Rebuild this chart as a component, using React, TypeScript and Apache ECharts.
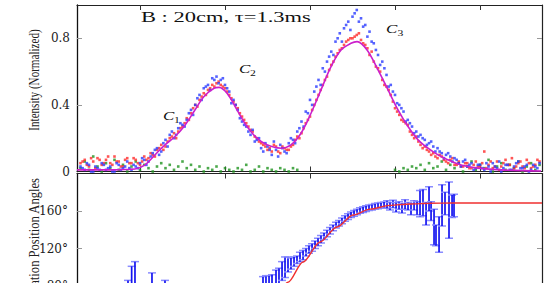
import React, { useEffect, useRef } from 'react';
import * as echarts from 'echarts';

// ---------- data (x = pulse longitude, arbitrary units; ticks every 10) ----------
const X_MIN = -7.41;
const X_MAX = 47.29;
const xTicks = [0, 10, 20, 30, 40];
const intensityLabels = [0, 0.4, 0.8];
const intensityTicks = [0.4, 0.8];
const angleLabels = [80, 120, 160];
const angleTicks = [40, 80, 120, 160];

const longitudes = [
  -7, -6.5, -6, -5.5, -5, -4.5, -4, -3.5, -3, -2.5, -2, -1.5, -1, -0.5,
  0, 0.5, 1, 1.5, 2, 2.5, 3, 3.5, 4, 4.5,
  5, 5.5, 6, 6.5, 7, 7.5, 8, 8.5, 9, 9.5,
  10, 10.5, 11, 11.5, 12, 12.5, 13, 13.5, 14, 14.5,
  15, 15.5, 16, 16.5, 17, 17.5, 18, 18.5, 19, 19.5,
  20, 20.5, 21, 21.5, 22, 22.5, 23, 23.5, 24, 24.5,
  25, 25.5, 26, 26.5, 27, 27.5, 28, 28.5, 29, 29.5,
  30, 30.5, 31, 31.5, 32, 32.5, 33, 33.5, 34, 34.5,
  35, 35.5, 36, 36.5, 37, 37.5, 38, 38.5, 39, 39.5,
  40, 40.5, 41, 41.5, 42, 42.5, 43, 43.5, 44, 44.5,
  45, 45.5, 46, 46.5, 47,
];

const blueIntensity = [
  0.03, 0.01, 0.04, 0.0, 0.02, 0.05, 0.01, 0.03, 0.0, 0.04, 0.02, 0.06, 0.01, 0.03,
  0.05, 0.07, 0.06, 0.11, 0.14, 0.12, 0.19, 0.22, 0.2, 0.26,
  0.28, 0.31, 0.37, 0.4, 0.46, 0.5, 0.52, 0.56, 0.57, 0.55,
  0.52, 0.48, 0.43, 0.37, 0.3, 0.27, 0.22, 0.18, 0.2, 0.12,
  0.15, 0.1, 0.13, 0.16, 0.12, 0.17, 0.19, 0.24, 0.3, 0.36,
  0.43, 0.48, 0.55, 0.62, 0.66, 0.72, 0.78, 0.83, 0.86, 0.9,
  0.93, 0.97, 0.92, 0.88, 0.84, 0.77, 0.7, 0.66, 0.58, 0.52,
  0.46, 0.4, 0.36, 0.31, 0.27, 0.24, 0.22, 0.19, 0.17, 0.15,
  0.14, 0.11, 0.1, 0.09, 0.08, 0.05, 0.06, 0.03, 0.05, 0.02,
  0.04, 0.01, 0.03, 0.05, 0.02, 0.0, 0.04, 0.01, 0.03, 0.06,
  0.02, 0.04, 0.01, 0.03, 0.05,
];

const redIntensity = [
  0.05, 0.07, 0.03, 0.06, 0.08, 0.04, 0.07, 0.05, 0.09, 0.06, 0.03, 0.08, 0.05, 0.07,
  0.04, 0.09, 0.08, 0.1, 0.13, 0.16, 0.15, 0.2, 0.23, 0.24,
  0.27, 0.32, 0.35, 0.4, 0.43, 0.47, 0.49, 0.52, 0.53, 0.52,
  0.5, 0.46, 0.42, 0.38, 0.33, 0.29, 0.25, 0.21, 0.18, 0.16,
  0.13, 0.12, 0.15, 0.11, 0.14, 0.13, 0.16, 0.21, 0.23, 0.29,
  0.33, 0.4, 0.46, 0.52, 0.57, 0.64, 0.69, 0.73, 0.76, 0.79,
  0.8, 0.82, 0.79, 0.76, 0.7, 0.66, 0.62, 0.55, 0.51, 0.46,
  0.38, 0.34, 0.3, 0.28, 0.22, 0.21, 0.16, 0.15, 0.12, 0.11,
  0.08, 0.09, 0.06, 0.07, 0.04, 0.06, 0.03, 0.05, 0.02, 0.06,
  0.03, 0.12, 0.04, 0.02, 0.06, 0.03, 0.07, 0.04, 0.02, 0.05,
  0.03, 0.07, 0.02, 0.04, 0.06,
];

const greenIntensity = [
  0.02, 0.06, 0.01, 0.09, 0.03, 0.0, 0.05, 0.02, 0.07, 0.01, 0.04, 0.0, 0.03, 0.06,
  0.01, 0.04, 0.02, 0.0, 0.03, 0.05, 0.02, 0.04, 0.01, 0.03,
  0.06, 0.02, 0.04, 0.01, 0.03, 0.0, 0.02, 0.01, 0.03, 0.0,
  0.02, 0.01, 0.0, 0.02, 0.01, 0.04, 0.0, 0.01, 0.03, 0.0,
  0.02, 0.01, 0.0, 0.02, 0.01, 0.0, 0.02, 0.01, null, null,
  null, null, null, null, null, null, null, null, null, null,
  null, null, null, null, null, null, null, null, null, null,
  0.01, 0.0, 0.02, 0.01, 0.03, 0.02, 0.04, 0.01, 0.05, 0.02,
  0.03, 0.06, 0.01, 0.04, 0.02, 0.05, 0.0, 0.03, 0.06, 0.01,
  0.04, 0.02, 0.07, 0.0, 0.03, 0.05, 0.01, 0.04, 0.02, 0.06,
  0.0, 0.03, 0.05, 0.01, 0.04,
];

// intermediate longitude bins (blue and red channels)
const longitudesHalf = [
  -6.75, -6.25, -5.75, -5.25, -4.75, -4.25, -3.75, -3.25, -2.75, -2.25, -1.75, -1.25, -0.75, -0.25,
  0.25, 0.75, 1.25, 1.75, 2.25, 2.75, 3.25, 3.75, 4.25, 4.75,
  5.25, 5.75, 6.25, 6.75, 7.25, 7.75, 8.25, 8.75, 9.25, 9.75,
  10.25, 10.75, 11.25, 11.75, 12.25, 12.75, 13.25, 13.75, 14.25, 14.75,
  15.25, 15.75, 16.25, 16.75, 17.25, 17.75, 18.25, 18.75, 19.25, 19.75,
  20.25, 20.75, 21.25, 21.75, 22.25, 22.75, 23.25, 23.75, 24.25, 24.75,
  25.25, 25.75, 26.25, 26.75, 27.25, 27.75, 28.25, 28.75, 29.25, 29.75,
  30.25, 30.75, 31.25, 31.75, 32.25, 32.75, 33.25, 33.75, 34.25, 34.75,
  35.25, 35.75, 36.25, 36.75, 37.25, 37.75, 38.25, 38.75, 39.25, 39.75,
  40.25, 40.75, 41.25, 41.75, 42.25, 42.75, 43.25, 43.75, 44.25, 44.75,
  45.25, 45.75, 46.25, 46.75,
];

const blueIntensityHalf = [
  0.02, 0.05, 0.0, 0.03, 0.01, 0.04, 0.02, 0.0, 0.05, 0.01, 0.03, 0.02, 0.04, 0.02,
  0.08, 0.04, 0.09, 0.13, 0.1, 0.17, 0.15, 0.24, 0.22, 0.29,
  0.27, 0.35, 0.34, 0.44, 0.43, 0.51, 0.49, 0.55, 0.53, 0.56,
  0.5, 0.41, 0.4, 0.32, 0.28, 0.24, 0.25, 0.19, 0.14, 0.17,
  0.13, 0.18, 0.09, 0.14, 0.11, 0.2, 0.17, 0.26, 0.27, 0.35,
  0.4, 0.51, 0.52, 0.6, 0.69, 0.7, 0.8, 0.78, 0.88, 0.85,
  0.95, 0.9, 0.87, 0.81, 0.78, 0.73, 0.64, 0.62, 0.51, 0.48,
  0.41, 0.38, 0.3, 0.29, 0.23, 0.21, 0.2, 0.16, 0.18, 0.12,
  0.12, 0.08, 0.11, 0.06, 0.07, 0.03, 0.07, 0.04, 0.01, 0.04,
  0.02, 0.05, 0.0, 0.03, 0.06, 0.02, 0.04, 0.01, 0.05, 0.02,
  0.03, 0.0, 0.04, 0.02,
];

const redIntensityHalf = [
  0.06, 0.04, 0.08, 0.02, 0.07, 0.05, 0.09, 0.04, 0.06, 0.03, 0.07, 0.05, 0.08, 0.05,
  0.06, 0.07, 0.11, 0.09, 0.14, 0.13, 0.18, 0.21, 0.2, 0.26,
  0.29, 0.31, 0.38, 0.39, 0.45, 0.46, 0.5, 0.51, 0.54, 0.51,
  0.48, 0.44, 0.4, 0.35, 0.31, 0.27, 0.24, 0.2, 0.17, 0.15,
  0.14, 0.16, 0.12, 0.15, 0.13, 0.15, 0.19, 0.2, 0.26, 0.31,
  0.37, 0.43, 0.49, 0.55, 0.61, 0.66, 0.71, 0.74, 0.78, 0.8,
  0.81, 0.83, 0.77, 0.74, 0.72, 0.63, 0.6, 0.52, 0.49, 0.42,
  0.36, 0.31, 0.29, 0.24, 0.2, 0.18, 0.14, 0.13, 0.1, 0.09,
  0.1, 0.07, 0.05, 0.08, 0.04, 0.03, 0.05, 0.02, 0.04, 0.03,
  0.05, 0.02, 0.06, 0.03, 0.01, 0.05, 0.04, 0.08, 0.03, 0.06,
  0.02, 0.05, 0.03, 0.07,
];

const fitX = [
  -7.41, -5.88, -3.53, -1.76, -0.59, 0.59, 1.76, 2.94, 4.12, 5.18, 6.35, 7.53, 8.71, 9.29,
  10.24, 11.41, 12.59, 13.76, 14.94, 16.59, 17.76, 18.94, 20.12, 21.29, 22.47, 23.65, 24.82,
  25.53, 26.71, 28.0, 29.18, 30.35, 31.53, 32.71, 33.88, 35.06, 36.24, 37.41, 38.59, 39.76,
  42.47, 47.18,
];
const fitY = [
  0.01, 0.01, 0.01, 0.012, 0.015, 0.04, 0.1, 0.16, 0.21, 0.27, 0.36, 0.45, 0.5, 0.505,
  0.47, 0.37, 0.27, 0.2, 0.16, 0.14, 0.16, 0.23, 0.35, 0.49, 0.63, 0.73, 0.77,
  0.78, 0.73, 0.61, 0.49, 0.37, 0.27, 0.19, 0.14, 0.1, 0.07, 0.045, 0.03, 0.02,
  0.01, 0.003,
];

const paX = [
  -1.41, -0.98, -0.59, 1.41, 2.94,
  14.47, 14.82, 15.18, 15.53, 16.0, 16.35, 16.71, 17.06, 17.41, 17.76,
  18.12, 18.47, 18.82, 19.18, 19.53, 19.88, 20.24, 20.59, 20.94, 21.29,
  21.65, 22.0, 22.35, 22.71, 23.06, 23.41, 23.76, 24.12, 24.47, 24.82,
  25.18, 25.53, 25.88, 26.24, 26.59, 26.94, 27.29, 27.65, 28.0, 28.35,
  28.71, 29.06, 29.41, 29.76, 30.12, 30.47, 30.82, 31.18, 31.53, 31.88,
  32.24, 32.59, 32.94, 33.29, 33.65, 34.0, 34.24, 34.59, 34.82, 35.18,
  35.53, 35.88, 36.35, 36.71, 36.94,
];
const paAngle = [
  75, 85, 90, 85, 78,
  78, 80, 82, 84, 88, 90, 96, 100, 103, 104,
  106, 108, 111, 113, 116, 119, 121, 124, 127, 130,
  133, 136, 139, 142, 145, 147, 149.5, 152, 154, 156,
  157.5, 159, 160.5, 161.5, 162.5, 163.5, 164, 165, 165.5, 166,
  166.5, 167, 165, 167.5, 164, 166, 163, 167, 165, 162,
  166, 163, 168, 169, 157, 173, 160, 143, 134, 135,
  166, 168, 161, 165, 166,
];
const paError = [
  11, 16, 16, 9, 8,
  12, 11, 9, 8, 9, 9, 10, 11, 8, 6,
  5, 4, 5, 5, 4, 4, 4, 4, 4, 4,
  3.5, 3.5, 3.5, 3, 3, 3, 3, 3, 3, 3,
  3, 3, 3, 3, 3, 3, 3, 3, 3, 3,
  3, 4, 4, 4, 5, 4, 5, 5, 4, 6,
  5, 7, 14, 14, 12, 13, 10, 19, 11, 19,
  22, 12, 30, 12, 12,
];

const rvmX = [12.5, 14.71, 15.88, 17.41, 19.18, 21.18, 23.18, 25.06, 27.06, 29.41, 31.76, 34.12, 36.82, 47.29];
const rvmY = [30, 55, 68, 84, 105.6, 127, 143, 155.7, 162, 166, 167.5, 168.3, 168.5, 168.5];

const titleText = 'B : 20cm, τ=1.3ms';
const topYName = 'Intensity (Normalized)';
const bottomYName = 'Polarization Position Angles';

export default function App() {
  const ref = useRef<HTMLDivElement>(null);

  useEffect(() => {
    document.body.style.margin = '0';
    document.body.style.overflow = 'hidden';
    document.documentElement.style.overflow = 'hidden';
    const chart = echarts.init(ref.current!, null, { renderer: 'svg' });

    const zip = (xs: number[], ys: (number | null)[]) =>
      xs
        .map((x, i) => (ys[i] == null ? null : [x, ys[i] as number]))
        .filter((p) => p !== null) as number[][];

    const xAxisFor = (gridIndex: number, position: string) => ({
      type: 'value',
      gridIndex,
      position,
      min: X_MIN,
      max: X_MAX,
      axisLine: { show: true, onZero: false, lineStyle: { color: '#222', width: 1.2 } },
      axisTick: {
        show: true,
        inside: true,
        length: 5,
        customValues: xTicks,
        lineStyle: { color: '#333', width: 1 },
      },
      axisLabel: { show: false },
      splitLine: { show: false },
    });

    const labelFont = { fontFamily: 'DejaVu Serif', fontSize: 12, color: '#222' };
    const textBase = { fill: '#111', textAlign: 'left', textVerticalAlign: 'middle', align: 'left', verticalAlign: 'middle' };

    const option: any = {
      animation: false,
      backgroundColor: '#fff',
      grid: [
        { left: 77, top: 5, width: 465, height: 166.5 },
        { left: 77, top: 173.5, width: 465, height: 187.5 },
      ],
      xAxis: [
        xAxisFor(0, 'bottom'),
        xAxisFor(0, 'top'),
        xAxisFor(1, 'top'),
        xAxisFor(1, 'bottom'),
      ],
      yAxis: [
        {
          type: 'value',
          gridIndex: 0,
          position: 'left',
          min: 0,
          max: 1,
          axisLine: { show: true, onZero: false, lineStyle: { color: '#111', width: 1.3 } },
          axisTick: { show: true, inside: true, length: 5, customValues: intensityTicks, lineStyle: { color: '#999' } },
          axisLabel: { ...labelFont, margin: 7, customValues: intensityLabels },
          splitLine: { show: false },
        },
        {
          type: 'value',
          gridIndex: 0,
          position: 'right',
          min: 0,
          max: 1,
          axisLine: { show: true, onZero: false, lineStyle: { color: '#222', width: 1.2 } },
          axisTick: { show: true, inside: true, length: 5, customValues: intensityTicks, lineStyle: { color: '#999' } },
          axisLabel: { show: false },
          splitLine: { show: false },
        },
        {
          type: 'value',
          gridIndex: 1,
          position: 'left',
          min: 0,
          max: 200,
          axisLine: { show: true, onZero: false, lineStyle: { color: '#111', width: 1.3 } },
          axisTick: { show: true, inside: true, length: 5, customValues: angleTicks, lineStyle: { color: '#999' } },
          axisLabel: { ...labelFont, margin: 9, customValues: angleLabels, formatter: (v: number) => v + '°' },
          splitLine: { show: false },
        },
        {
          type: 'value',
          gridIndex: 1,
          position: 'right',
          min: 0,
          max: 200,
          axisLine: { show: true, onZero: false, lineStyle: { color: '#222', width: 1.2 } },
          axisTick: { show: true, inside: true, length: 5, customValues: angleTicks, lineStyle: { color: '#999' } },
          axisLabel: { show: false },
          splitLine: { show: false },
        },
      ],
      series: [
        {
          type: 'scatter',
          xAxisIndex: 0,
          yAxisIndex: 0,
          data: zip(longitudes, greenIntensity),
          symbol: 'rect',
          symbolSize: 2.6,
          itemStyle: { color: '#1f941f' },
          silent: true,
        },
        {
          type: 'scatter',
          xAxisIndex: 0,
          yAxisIndex: 0,
          data: zip(longitudes, redIntensity).concat(zip(longitudesHalf, redIntensityHalf)),
          symbol: 'rect',
          symbolSize: 2.6,
          itemStyle: { color: '#ff2a2a' },
          silent: true,
        },
        {
          type: 'scatter',
          xAxisIndex: 0,
          yAxisIndex: 0,
          data: zip(longitudes, blueIntensity).concat(zip(longitudesHalf, blueIntensityHalf)),
          symbol: 'rect',
          symbolSize: 2.6,
          itemStyle: { color: '#2b3bff' },
          silent: true,
        },
        {
          type: 'line',
          xAxisIndex: 0,
          yAxisIndex: 0,
          data: fitX.map((x, i) => [x, fitY[i]]),
          symbol: 'none',
          showSymbol: false,
          smooth: 0.35,
          lineStyle: { color: '#cc1fcc', width: 1.6 },
          silent: true,
        },
        {
          type: 'custom',
          xAxisIndex: 2,
          yAxisIndex: 2,
          clip: true,
          data: paX.map((x, i) => [x, paAngle[i], paError[i]]),
          encode: { x: 0, y: 1 },
          renderItem: (params: any, api: any) => {
            const x = api.value(0);
            const y = api.value(1);
            const e = api.value(2);
            const top = api.coord([x, y + e]);
            const bot = api.coord([x, y - e]);
            const hw = 4;
            return {
              type: 'group',
              children: [
                {
                  type: 'line',
                  shape: { x1: top[0] - hw, y1: top[1], x2: top[0] + hw, y2: top[1] },
                  style: { stroke: '#8a8cff', lineWidth: 1.5 },
                },
                {
                  type: 'line',
                  shape: { x1: bot[0] - hw, y1: bot[1], x2: bot[0] + hw, y2: bot[1] },
                  style: { stroke: '#8a8cff', lineWidth: 1.5 },
                },
                {
                  type: 'line',
                  shape: { x1: top[0], y1: top[1], x2: bot[0], y2: bot[1] },
                  style: { stroke: '#1414f0', lineWidth: 1.7 },
                },
              ],
            };
          },
          silent: true,
        },
        {
          type: 'line',
          xAxisIndex: 2,
          yAxisIndex: 2,
          data: rvmX.map((x, i) => [x, rvmY[i]]),
          symbol: 'none',
          showSymbol: false,
          smooth: 0.3,
          smoothMonotone: 'x',
          lineStyle: { color: '#f03030', width: 1.4 },
          silent: true,
        },
      ],
      graphic: [
        {
          type: 'text',
          x: 141,
          y: 17,
          scaleX: 1.5,
          style: { ...textBase, text: titleText, font: '15px "Liberation Serif"' },
        },
        { type: 'text', x: 163, y: 116, scaleX: 1.3, style: { ...textBase, text: 'C', font: 'italic 13px "Liberation Serif"' } },
        { type: 'text', x: 174, y: 120, scaleX: 1.3, style: { ...textBase, text: '1', font: '9px "Liberation Serif"' } },
        { type: 'text', x: 239, y: 69, scaleX: 1.3, style: { ...textBase, text: 'C', font: 'italic 13px "Liberation Serif"' } },
        { type: 'text', x: 250, y: 73, scaleX: 1.3, style: { ...textBase, text: '2', font: '9px "Liberation Serif"' } },
        { type: 'text', x: 386, y: 29, scaleX: 1.3, style: { ...textBase, text: 'C', font: 'italic 13px "Liberation Serif"' } },
        { type: 'text', x: 397.5, y: 33, scaleX: 1.3, style: { ...textBase, text: '3', font: '9px "Liberation Serif"' } },
        {
          type: 'text',
          x: 34,
          y: 80,
          rotation: Math.PI / 2,
          scaleX: 0.74,
          style: { text: topYName, font: '15px "Liberation Serif"', fill: '#222', textAlign: 'center', textVerticalAlign: 'middle', align: 'center', verticalAlign: 'middle' },
        },
        {
          type: 'text',
          x: 34,
          y: 178,
          rotation: Math.PI / 2,
          scaleX: 0.84,
          style: { text: bottomYName, font: '15px "Liberation Serif"', fill: '#222', textAlign: 'right', textVerticalAlign: 'middle', align: 'right', verticalAlign: 'middle' },
        },
      ],
    };

    chart.setOption(option);
    return () => chart.dispose();
  }, []);

  return (
    <div
      ref={ref}
      style={{ position: 'absolute', left: 0, top: 0, width: 552, height: 370, background: '#fff' }}
    />
  );
}
